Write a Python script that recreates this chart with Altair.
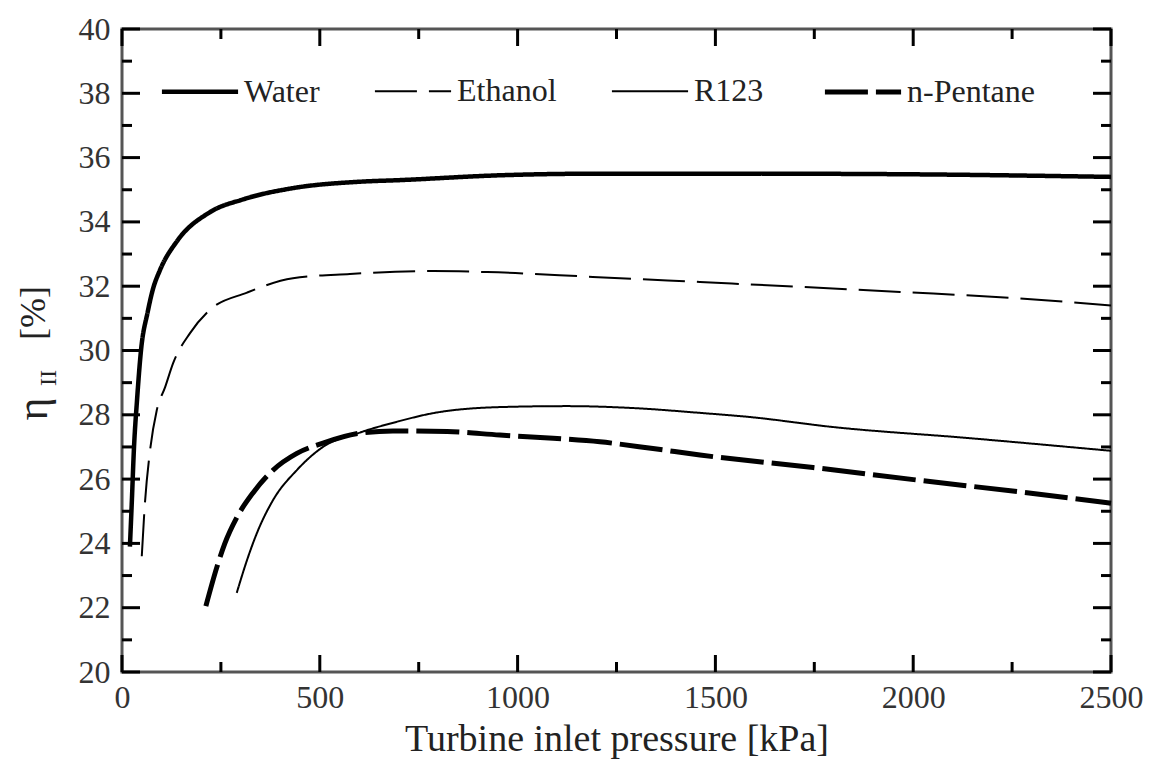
import altair as alt
import pandas as pd

# Second-law efficiency vs turbine inlet pressure for four working fluids
fluids = ["Water", "Ethanol", "R123", "n-Pentane"]

water_p = [20, 25, 30, 38, 48, 65, 78, 96, 139, 222, 306, 432, 602, 703, 956, 1208, 1588, 2000, 2500]
water_eta = [23.9, 25.35, 26.9, 28.46, 30.0, 31.2, 31.9, 32.5, 33.4, 34.3, 34.7, 35.05, 35.25, 35.3, 35.45, 35.5, 35.5, 35.48, 35.4]

ethanol_p = [50, 58, 71, 88, 109, 129, 172, 222, 316, 432, 576, 786, 923, 1190, 1461, 1714, 1967, 2220, 2500]
ethanol_eta = [23.6, 25.26, 26.9, 28.15, 28.86, 29.6, 30.54, 31.26, 31.8, 32.25, 32.38, 32.47, 32.44, 32.29, 32.13, 31.98, 31.82, 31.66, 31.4]

r123_p = [290, 316, 341, 382, 442, 508, 602, 700, 786, 955, 1125, 1292, 1461, 1588, 1797, 2136, 2500]
r123_eta = [22.46, 23.48, 24.32, 25.35, 26.28, 27.0, 27.45, 27.8, 28.05, 28.24, 28.27, 28.21, 28.06, 27.93, 27.62, 27.28, 26.88]

pentane_p = [212, 240, 260, 290, 331, 382, 442, 508, 602, 685, 822, 955, 1090, 1208, 1342, 1461, 1747, 2010, 2270, 2500]
pentane_eta = [22.05, 23.27, 24.0, 24.8, 25.57, 26.28, 26.8, 27.12, 27.43, 27.5, 27.48, 27.37, 27.27, 27.16, 26.95, 26.75, 26.36, 25.97, 25.6, 25.25]

x_major = [0, 500, 1000, 1500, 2000, 2500]
x_minor = [250, 750, 1250, 1750, 2250]
y_major = [20, 22, 24, 26, 28, 30, 32, 34, 36, 38, 40]
y_minor = [21, 23, 25, 27, 29, 31, 33, 35, 37, 39]

W, H = 989, 643
FONT = "Liberation Serif"

rows = []
for name, ps, es in [("Water", water_p, water_eta), ("Ethanol", ethanol_p, ethanol_eta),
                     ("R123", r123_p, r123_eta), ("n-Pentane", pentane_p, pentane_eta)]:
    for i, (p, e) in enumerate(zip(ps, es)):
        rows.append({"fluid": name, "p": p, "eta": e, "order": i})
df = pd.DataFrame(rows)

xscale = alt.Scale(domain=[0, 2500], nice=False, zero=False)
yscale = alt.Scale(domain=[20, 40], nice=False, zero=False)

legend_cfg = dict(title=None, orient="none", legendX=37, legendY=22,
                  direction="horizontal", columns=4, symbolType="stroke",
                  symbolSize=5800, symbolStrokeColor="black",
                  labelFont=FONT, labelFontSize=32, labelColor="#222",
                  labelOffset=3, columnPadding=50)

lines = alt.Chart(df).mark_line(interpolate="monotone", color="black", strokeCap="butt").encode(
    x=alt.X("p:Q", scale=xscale,
            axis=alt.Axis(values=x_major, format="d", ticks=False, domain=False, grid=False,
                          labelPadding=10, labelFlush=False,
                          labelFont=FONT, labelFontSize=32, labelColor="#333",
                          title="Turbine inlet pressure [kPa]", titleFont=FONT, titleFontSize=38,
                          titleFontWeight="normal", titleColor="#222", titlePadding=7)),
    y=alt.Y("eta:Q", scale=yscale,
            axis=alt.Axis(values=y_major, format="d", ticks=False, domain=False, grid=False,
                          labelPadding=12, labelFlush=False,
                          labelFont=FONT, labelFontSize=32, labelColor="#333", title=None)),
    detail="fluid:N",
    order="order:Q",
    strokeDash=alt.StrokeDash("fluid:N",
                              scale=alt.Scale(domain=fluids, range=[[1, 0], [42, 12], [1, 0], [43, 8]]),
                              legend=alt.Legend(**legend_cfg)),
    strokeWidth=alt.StrokeWidth("fluid:N",
                                scale=alt.Scale(type="ordinal", domain=fluids, range=[4.5, 2, 2, 5]),
                                legend=alt.Legend(**legend_cfg)),
)

# inward tick marks on all four sides
def xticks(vals, length):
    d = pd.DataFrame({"v": vals})
    bottom = alt.Chart(d).mark_rule(color="black", strokeWidth=3).encode(
        x=alt.X("v:Q", scale=xscale), y=alt.value(H), y2=alt.value(H - length))
    top = alt.Chart(d).mark_rule(color="black", strokeWidth=3).encode(
        x=alt.X("v:Q", scale=xscale), y=alt.value(0), y2=alt.value(length))
    return [bottom, top]

def yticks(vals, length):
    d = pd.DataFrame({"v": vals})
    left = alt.Chart(d).mark_rule(color="black", strokeWidth=3).encode(
        y=alt.Y("v:Q", scale=yscale), x=alt.value(0), x2=alt.value(length))
    right = alt.Chart(d).mark_rule(color="black", strokeWidth=3).encode(
        y=alt.Y("v:Q", scale=yscale), x=alt.value(W), x2=alt.value(W - length))
    return [left, right]

tick_layers = xticks(x_major, 17) + xticks(x_minor, 10) + yticks(y_major, 18) + yticks(y_minor, 10)

# y-axis title: eta with subscript II
one = pd.DataFrame({"k": [0]})
eta_txt = alt.Chart(one).mark_text(font=FONT, fontSize=44, angle=270, color="#222",
                                   align="center", baseline="middle").encode(
    x=alt.value(-88), y=alt.value(380), text=alt.value("η"))
sub_txt = alt.Chart(one).mark_text(font=FONT, fontSize=24, angle=270, color="#222",
                                   align="center", baseline="middle").encode(
    x=alt.value(-73), y=alt.value(349), text=alt.value("II"))
pct_txt = alt.Chart(one).mark_text(font=FONT, fontSize=36, angle=270, color="#222",
                                   align="center", baseline="middle").encode(
    x=alt.value(-88), y=alt.value(284), text=alt.value("[%]"))

chart = alt.layer(lines, *tick_layers, eta_txt, sub_txt, pct_txt).properties(
    width=W, height=H,
    autosize=alt.AutoSizeParams(type="none"),
    padding={"left": 122, "top": 29, "right": 39, "bottom": 97},
    background="white",
).configure(font=FONT).configure_view(stroke="#555", strokeWidth=3).configure_axis(
    labelFont=FONT, titleFont=FONT
).configure_legend(labelFont=FONT)

chart.save("out.html", embed_options={"renderer": "svg", "actions": False})
